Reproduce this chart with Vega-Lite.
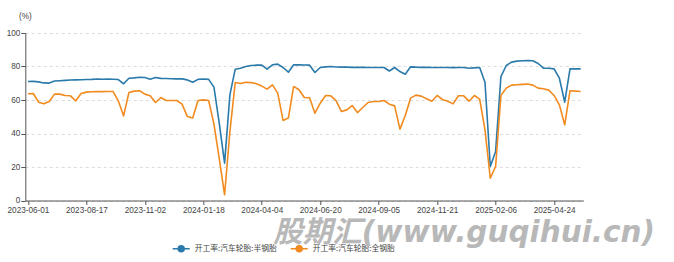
{
  "$schema": "https://vega.github.io/schema/vega-lite/v6.json",
  "width": 558,
  "height": 167.5,
  "autosize": {"type": "none"},
  "padding": {"left": 25.3, "top": 33, "right": 90.7, "bottom": 61.5},
  "background": "#ffffff",
  "title": {
    "text": "股期汇(www.guqihui.cn)",
    "orient": "bottom",
    "anchor": "start",
    "frame": "group",
    "dx": 248,
    "offset": -13,
    "baseline": "alphabetic",
    "font": "DejaVu Sans, Noto Sans CJK SC",
    "fontSize": 29.5,
    "fontWeight": "bold",
    "fontStyle": "italic",
    "color": "#b8b8b8"
  },
  "data": {
    "values": [
      {"d": "2023-06-01", "开工率:汽车轮胎:半钢胎": 71.0, "开工率:汽车轮胎:全钢胎": 63.7},
      {"d": "2023-06-08", "开工率:汽车轮胎:半钢胎": 71.1, "开工率:汽车轮胎:全钢胎": 63.9},
      {"d": "2023-06-15", "开工率:汽车轮胎:半钢胎": 70.8, "开工率:汽车轮胎:全钢胎": 58.7},
      {"d": "2023-06-22", "开工率:汽车轮胎:半钢胎": 70.2, "开工率:汽车轮胎:全钢胎": 57.7},
      {"d": "2023-06-29", "开工率:汽车轮胎:半钢胎": 70.1, "开工率:汽车轮胎:全钢胎": 59.1},
      {"d": "2023-07-06", "开工率:汽车轮胎:半钢胎": 71.3, "开工率:汽车轮胎:全钢胎": 63.5},
      {"d": "2023-07-13", "开工率:汽车轮胎:半钢胎": 71.5, "开工率:汽车轮胎:全钢胎": 63.5},
      {"d": "2023-07-20", "开工率:汽车轮胎:半钢胎": 71.7, "开工率:汽车轮胎:全钢胎": 62.7},
      {"d": "2023-07-27", "开工率:汽车轮胎:半钢胎": 71.9, "开工率:汽车轮胎:全钢胎": 62.5},
      {"d": "2023-08-03", "开工率:汽车轮胎:半钢胎": 72.0, "开工率:汽车轮胎:全钢胎": 59.5},
      {"d": "2023-08-10", "开工率:汽车轮胎:半钢胎": 72.1, "开工率:汽车轮胎:全钢胎": 63.9},
      {"d": "2023-08-17", "开工率:汽车轮胎:半钢胎": 72.2, "开工率:汽车轮胎:全钢胎": 64.7},
      {"d": "2023-08-24", "开工率:汽车轮胎:半钢胎": 72.3, "开工率:汽车轮胎:全钢胎": 64.9},
      {"d": "2023-08-31", "开工率:汽车轮胎:半钢胎": 72.5, "开工率:汽车轮胎:全钢胎": 65.0},
      {"d": "2023-09-07", "开工率:汽车轮胎:半钢胎": 72.4, "开工率:汽车轮胎:全钢胎": 65.0},
      {"d": "2023-09-14", "开工率:汽车轮胎:半钢胎": 72.5, "开工率:汽车轮胎:全钢胎": 65.1},
      {"d": "2023-09-21", "开工率:汽车轮胎:半钢胎": 72.4, "开工率:汽车轮胎:全钢胎": 65.1},
      {"d": "2023-09-28", "开工率:汽车轮胎:半钢胎": 72.2, "开工率:汽车轮胎:全钢胎": 59.5},
      {"d": "2023-10-05", "开工率:汽车轮胎:半钢胎": 69.7, "开工率:汽车轮胎:全钢胎": 50.5},
      {"d": "2023-10-12", "开工率:汽车轮胎:半钢胎": 73.0, "开工率:汽车轮胎:全钢胎": 64.5},
      {"d": "2023-10-19", "开工率:汽车轮胎:半钢胎": 73.2, "开工率:汽车轮胎:全钢胎": 65.3},
      {"d": "2023-10-26", "开工率:汽车轮胎:半钢胎": 73.6, "开工率:汽车轮胎:全钢胎": 65.5},
      {"d": "2023-11-02", "开工率:汽车轮胎:半钢胎": 73.4, "开工率:汽车轮胎:全钢胎": 63.5},
      {"d": "2023-11-09", "开工率:汽车轮胎:半钢胎": 72.4, "开工率:汽车轮胎:全钢胎": 62.5},
      {"d": "2023-11-16", "开工率:汽车轮胎:半钢胎": 73.4, "开工率:汽车轮胎:全钢胎": 58.5},
      {"d": "2023-11-23", "开工率:汽车轮胎:半钢胎": 72.9, "开工率:汽车轮胎:全钢胎": 61.5},
      {"d": "2023-11-30", "开工率:汽车轮胎:半钢胎": 72.8, "开工率:汽车轮胎:全钢胎": 59.7},
      {"d": "2023-12-07", "开工率:汽车轮胎:半钢胎": 72.7, "开工率:汽车轮胎:全钢胎": 59.7},
      {"d": "2023-12-14", "开工率:汽车轮胎:半钢胎": 72.6, "开工率:汽车轮胎:全钢胎": 59.7},
      {"d": "2023-12-21", "开工率:汽车轮胎:半钢胎": 72.6, "开工率:汽车轮胎:全钢胎": 57.5},
      {"d": "2023-12-28", "开工率:汽车轮胎:半钢胎": 72.0, "开工率:汽车轮胎:全钢胎": 50.1},
      {"d": "2024-01-04", "开工率:汽车轮胎:半钢胎": 70.6, "开工率:汽车轮胎:全钢胎": 49.2},
      {"d": "2024-01-11", "开工率:汽车轮胎:半钢胎": 72.3, "开工率:汽车轮胎:全钢胎": 59.7},
      {"d": "2024-01-18", "开工率:汽车轮胎:半钢胎": 72.5, "开工率:汽车轮胎:全钢胎": 60.1},
      {"d": "2024-01-25", "开工率:汽车轮胎:半钢胎": 72.3, "开工率:汽车轮胎:全钢胎": 59.7},
      {"d": "2024-02-01", "开工率:汽车轮胎:半钢胎": 67.7, "开工率:汽车轮胎:全钢胎": 45.6},
      {"d": "2024-02-08", "开工率:汽车轮胎:半钢胎": 46.0, "开工率:汽车轮胎:全钢胎": 25.0},
      {"d": "2024-02-15", "开工率:汽车轮胎:半钢胎": 22.3, "开工率:汽车轮胎:全钢胎": 3.4},
      {"d": "2024-02-22", "开工率:汽车轮胎:半钢胎": 63.1, "开工率:汽车轮胎:全钢胎": 41.2},
      {"d": "2024-02-29", "开工率:汽车轮胎:半钢胎": 78.4, "开工率:汽车轮胎:全钢胎": 70.4},
      {"d": "2024-03-07", "开工率:汽车轮胎:半钢胎": 79.0, "开工率:汽车轮胎:全钢胎": 69.8},
      {"d": "2024-03-14", "开工率:汽车轮胎:半钢胎": 80.0, "开工率:汽车轮胎:全钢胎": 70.6},
      {"d": "2024-03-21", "开工率:汽车轮胎:半钢胎": 80.6, "开工率:汽车轮胎:全钢胎": 70.4},
      {"d": "2024-03-28", "开工率:汽车轮胎:半钢胎": 80.8, "开工率:汽车轮胎:全钢胎": 69.7},
      {"d": "2024-04-04", "开工率:汽车轮胎:半钢胎": 80.8, "开工率:汽车轮胎:全钢胎": 68.3},
      {"d": "2024-04-11", "开工率:汽车轮胎:半钢胎": 78.4, "开工率:汽车轮胎:全钢胎": 66.5},
      {"d": "2024-04-18", "开工率:汽车轮胎:半钢胎": 81.0, "开工率:汽车轮胎:全钢胎": 69.0},
      {"d": "2024-04-25", "开工率:汽车轮胎:半钢胎": 81.4, "开工率:汽车轮胎:全钢胎": 64.1},
      {"d": "2024-05-02", "开工率:汽车轮胎:半钢胎": 79.4, "开工率:汽车轮胎:全钢胎": 47.8},
      {"d": "2024-05-09", "开工率:汽车轮胎:半钢胎": 76.6, "开工率:汽车轮胎:全钢胎": 49.2},
      {"d": "2024-05-16", "开工率:汽车轮胎:半钢胎": 81.0, "开工率:汽车轮胎:全钢胎": 68.1},
      {"d": "2024-05-23", "开工率:汽车轮胎:半钢胎": 81.0, "开工率:汽车轮胎:全钢胎": 66.1},
      {"d": "2024-05-30", "开工率:汽车轮胎:半钢胎": 80.9, "开工率:汽车轮胎:全钢胎": 61.5},
      {"d": "2024-06-06", "开工率:汽车轮胎:半钢胎": 80.8, "开工率:汽车轮胎:全钢胎": 61.3},
      {"d": "2024-06-13", "开工率:汽车轮胎:半钢胎": 76.4, "开工率:汽车轮胎:全钢胎": 52.1},
      {"d": "2024-06-20", "开工率:汽车轮胎:半钢胎": 79.4, "开工率:汽车轮胎:全钢胎": 58.1},
      {"d": "2024-06-27", "开工率:汽车轮胎:半钢胎": 79.8, "开工率:汽车轮胎:全钢胎": 62.7},
      {"d": "2024-07-04", "开工率:汽车轮胎:半钢胎": 80.0, "开工率:汽车轮胎:全钢胎": 62.5},
      {"d": "2024-07-11", "开工率:汽车轮胎:半钢胎": 79.7, "开工率:汽车轮胎:全钢胎": 59.5},
      {"d": "2024-07-18", "开工率:汽车轮胎:半钢胎": 79.6, "开工率:汽车轮胎:全钢胎": 53.1},
      {"d": "2024-07-25", "开工率:汽车轮胎:半钢胎": 79.6, "开工率:汽车轮胎:全钢胎": 54.1},
      {"d": "2024-08-01", "开工率:汽车轮胎:半钢胎": 79.5, "开工率:汽车轮胎:全钢胎": 56.7},
      {"d": "2024-08-08", "开工率:汽车轮胎:半钢胎": 79.5, "开工率:汽车轮胎:全钢胎": 52.5},
      {"d": "2024-08-15", "开工率:汽车轮胎:半钢胎": 79.5, "开工率:汽车轮胎:全钢胎": 55.5},
      {"d": "2024-08-22", "开工率:汽车轮胎:半钢胎": 79.4, "开工率:汽车轮胎:全钢胎": 58.5},
      {"d": "2024-08-29", "开工率:汽车轮胎:半钢胎": 79.4, "开工率:汽车轮胎:全钢胎": 59.1},
      {"d": "2024-09-05", "开工率:汽车轮胎:半钢胎": 79.4, "开工率:汽车轮胎:全钢胎": 59.1},
      {"d": "2024-09-12", "开工率:汽车轮胎:半钢胎": 79.4, "开工率:汽车轮胎:全钢胎": 59.7},
      {"d": "2024-09-19", "开工率:汽车轮胎:半钢胎": 77.3, "开工率:汽车轮胎:全钢胎": 57.5},
      {"d": "2024-09-26", "开工率:汽车轮胎:半钢胎": 79.4, "开工率:汽车轮胎:全钢胎": 56.5},
      {"d": "2024-10-03", "开工率:汽车轮胎:半钢胎": 77.0, "开工率:汽车轮胎:全钢胎": 42.6},
      {"d": "2024-10-10", "开工率:汽车轮胎:半钢胎": 75.4, "开工率:汽车轮胎:全钢胎": 50.7},
      {"d": "2024-10-17", "开工率:汽车轮胎:半钢胎": 79.8, "开工率:汽车轮胎:全钢胎": 61.1},
      {"d": "2024-10-24", "开工率:汽车轮胎:半钢胎": 79.6, "开工率:汽车轮胎:全钢胎": 62.9},
      {"d": "2024-10-31", "开工率:汽车轮胎:半钢胎": 79.5, "开工率:汽车轮胎:全钢胎": 62.3},
      {"d": "2024-11-07", "开工率:汽车轮胎:半钢胎": 79.5, "开工率:汽车轮胎:全钢胎": 60.7},
      {"d": "2024-11-14", "开工率:汽车轮胎:半钢胎": 79.4, "开工率:汽车轮胎:全钢胎": 59.3},
      {"d": "2024-11-21", "开工率:汽车轮胎:半钢胎": 79.4, "开工率:汽车轮胎:全钢胎": 62.7},
      {"d": "2024-11-28", "开工率:汽车轮胎:半钢胎": 79.4, "开工率:汽车轮胎:全钢胎": 60.3},
      {"d": "2024-12-05", "开工率:汽车轮胎:半钢胎": 79.4, "开工率:汽车轮胎:全钢胎": 59.3},
      {"d": "2024-12-12", "开工率:汽车轮胎:半钢胎": 79.3, "开工率:汽车轮胎:全钢胎": 57.7},
      {"d": "2024-12-19", "开工率:汽车轮胎:半钢胎": 79.4, "开工率:汽车轮胎:全钢胎": 62.5},
      {"d": "2024-12-26", "开工率:汽车轮胎:半钢胎": 79.4, "开工率:汽车轮胎:全钢胎": 62.5},
      {"d": "2025-01-02", "开工率:汽车轮胎:半钢胎": 79.0, "开工率:汽车轮胎:全钢胎": 59.3},
      {"d": "2025-01-09", "开工率:汽车轮胎:半钢胎": 79.2, "开工率:汽车轮胎:全钢胎": 62.7},
      {"d": "2025-01-16", "开工率:汽车轮胎:半钢胎": 79.4, "开工率:汽车轮胎:全钢胎": 60.5},
      {"d": "2025-01-23", "开工率:汽车轮胎:半钢胎": 70.6, "开工率:汽车轮胎:全钢胎": 42.2},
      {"d": "2025-01-30", "开工率:汽车轮胎:半钢胎": 20.3, "开工率:汽车轮胎:全钢胎": 13.3},
      {"d": "2025-02-06", "开工率:汽车轮胎:半钢胎": 29.3, "开工率:汽车轮胎:全钢胎": 20.3},
      {"d": "2025-02-13", "开工率:汽车轮胎:半钢胎": 74.0, "开工率:汽车轮胎:全钢胎": 62.7},
      {"d": "2025-02-20", "开工率:汽车轮胎:半钢胎": 80.6, "开工率:汽车轮胎:全钢胎": 67.1},
      {"d": "2025-02-27", "开工率:汽车轮胎:半钢胎": 82.6, "开工率:汽车轮胎:全钢胎": 68.9},
      {"d": "2025-03-06", "开工率:汽车轮胎:半钢胎": 83.2, "开工率:汽车轮胎:全钢胎": 69.1},
      {"d": "2025-03-13", "开工率:汽车轮胎:半钢胎": 83.4, "开工率:汽车轮胎:全钢胎": 69.3},
      {"d": "2025-03-20", "开工率:汽车轮胎:半钢胎": 83.6, "开工率:汽车轮胎:全钢胎": 69.5},
      {"d": "2025-03-27", "开工率:汽车轮胎:半钢胎": 83.4, "开工率:汽车轮胎:全钢胎": 68.9},
      {"d": "2025-04-03", "开工率:汽车轮胎:半钢胎": 81.8, "开工率:汽车轮胎:全钢胎": 67.1},
      {"d": "2025-04-10", "开工率:汽车轮胎:半钢胎": 79.0, "开工率:汽车轮胎:全钢胎": 66.7},
      {"d": "2025-04-17", "开工率:汽车轮胎:半钢胎": 79.0, "开工率:汽车轮胎:全钢胎": 65.9},
      {"d": "2025-04-24", "开工率:汽车轮胎:半钢胎": 78.6, "开工率:汽车轮胎:全钢胎": 62.7},
      {"d": "2025-05-01", "开工率:汽车轮胎:半钢胎": 73.0, "开工率:汽车轮胎:全钢胎": 57.1},
      {"d": "2025-05-08", "开工率:汽车轮胎:半钢胎": 58.7, "开工率:汽车轮胎:全钢胎": 45.2},
      {"d": "2025-05-15", "开工率:汽车轮胎:半钢胎": 78.6, "开工率:汽车轮胎:全钢胎": 65.5},
      {"d": "2025-05-22", "开工率:汽车轮胎:半钢胎": 78.6, "开工率:汽车轮胎:全钢胎": 65.3},
      {"d": "2025-05-29", "开工率:汽车轮胎:半钢胎": 78.6, "开工率:汽车轮胎:全钢胎": 65.1}
    ]
  },
  "transform": [
    {"fold": ["开工率:汽车轮胎:半钢胎", "开工率:汽车轮胎:全钢胎"], "as": ["series", "value"]}
  ],
  "mark": {"type": "line", "strokeWidth": 1.6, "strokeJoin": "round"},
  "encoding": {
    "x": {
      "field": "d",
      "type": "temporal",
      "scale": {
        "type": "utc",
        "domain": [
          {"year": 2023, "month": 5, "date": 28, "hours": 12, "utc": true},
          {"year": 2025, "month": 6, "date": 1, "hours": 12, "utc": true}
        ]
      },
      "axis": {
        "title": null,
        "grid": false,
        "format": "%Y-%m-%d",
        "values": [
          {"year": 2023, "month": 6, "date": 1, "utc": true},
          {"year": 2023, "month": 8, "date": 17, "utc": true},
          {"year": 2023, "month": 11, "date": 2, "utc": true},
          {"year": 2024, "month": 1, "date": 18, "utc": true},
          {"year": 2024, "month": 4, "date": 4, "utc": true},
          {"year": 2024, "month": 6, "date": 20, "utc": true},
          {"year": 2024, "month": 9, "date": 5, "utc": true},
          {"year": 2024, "month": 11, "date": 21, "utc": true},
          {"year": 2025, "month": 2, "date": 6, "utc": true},
          {"year": 2025, "month": 4, "date": 24, "utc": true}
        ],
        "labelFont": "Liberation Sans",
        "labelFontSize": 8.2,
        "labelColor": "#444444",
        "labelPadding": 2,
        "labelOverlap": false,
        "labelFlush": false,
        "tickSize": 4,
        "tickColor": "#555555",
        "domainColor": "#555555",
        "domainWidth": 1
      }
    },
    "y": {
      "field": "value",
      "type": "quantitative",
      "scale": {"domain": [0, 100], "nice": false, "zero": true},
      "axis": {
        "title": "(%)",
        "titleAngle": 0,
        "titleX": -0.5,
        "titleY": -16.5,
        "titleAlign": "center",
        "titleBaseline": "middle",
        "titleFont": "Liberation Sans",
        "titleFontSize": 8.2,
        "titleFontWeight": "normal",
        "titleColor": "#444444",
        "values": [0, 20, 40, 60, 80, 100],
        "labelFont": "Liberation Sans",
        "labelFontSize": 8.2,
        "labelColor": "#444444",
        "labelPadding": 1,
        "tickSize": 4.5,
        "tickColor": "#555555",
        "domainColor": "#555555",
        "grid": true,
        "gridColor": "#dddddd",
        "gridDash": [3, 3],
        "gridWidth": 1
      }
    },
    "color": {
      "field": "series",
      "type": "nominal",
      "scale": {
        "domain": ["开工率:汽车轮胎:半钢胎", "开工率:汽车轮胎:全钢胎"],
        "range": ["#2a7aaa", "#f28b1f"]
      },
      "legend": {
        "title": null,
        "orient": "none",
        "legendX": 146.4,
        "legendY": 206,
        "direction": "horizontal",
        "symbolType": "M-1,0H-0.35M0.35,0H1M-0.35,0A0.35,0.35,0,1,1,0.35,0A0.35,0.35,0,1,1,-0.35,0Z",
        "symbolSize": 289,
        "symbolStrokeWidth": 1.5,
        "labelFont": "Noto Sans, Noto Sans CJK SC",
        "labelFontSize": 7.8,
        "labelColor": "#444444",
        "labelOffset": 4,
        "columnPadding": 10,
        "encode": {
          "symbols": {
            "update": {
              "fill": {"scale": "color", "field": "value"},
              "fillOpacity": {"value": 1}
            }
          }
        }
      }
    }
  },
  "config": {
    "view": {"stroke": null},
    "axis": {"ticks": true}
  }
}
